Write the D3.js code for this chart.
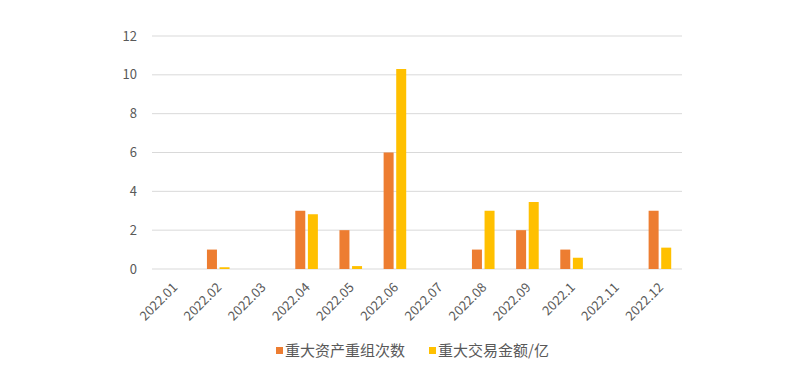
<!DOCTYPE html>
<html>
<head>
<meta charset="utf-8">
<script src="https://cdn.jsdelivr.net/npm/d3@7"></script>
<style>
  body { margin: 0; background: #fff; }
  svg text { font-family: "Noto Sans CJK SC", "Noto Sans", sans-serif; fill: #595959; }
</style>
</head>
<body>
<svg id="chart" width="800" height="375"></svg>
<script>
// chart data
const months = ["2022.01","2022.02","2022.03","2022.04","2022.05","2022.06",
                "2022.07","2022.08","2022.09","2022.1","2022.11","2022.12"];
const countVals  = [0, 1, 0, 3, 2, 6, 0, 1, 2, 1, 0, 3];
const amountVals = [0, 0.09, 0, 2.82, 0.15, 10.3, 0, 3.0, 3.45, 0.58, 0, 1.1];
const yTicks = [0, 2, 4, 6, 8, 10, 12];
const seriesNames = ["重大资产重组次数", "重大交易金额/亿"];
const COLORS = ["#ED7D31", "#FFC000"];

(function(){
  const svg = d3.select('#chart');
  const plotL = 152, plotR = 682, plotT = 36, plotB = 269;

  const x = d3.scaleBand().domain(months).range([plotL, plotR]);
  const y = d3.scaleLinear().domain([0, 12]).range([plotB, plotT]);

  // gridlines
  svg.append('g').selectAll('line')
    .data(yTicks)
    .join('line')
    .attr('x1', plotL).attr('x2', plotR)
    .attr('y1', d => y(d)).attr('y2', d => y(d))
    .attr('stroke', '#d9d9d9').attr('stroke-width', 1);

  // y labels
  svg.append('g').selectAll('text')
    .data(yTicks)
    .join('text')
    .attr('x', 137).attr('y', d => y(d))
    .attr('dy', '0.35em')
    .attr('text-anchor', 'end')
    .style('font-size', '13px')
    .text(d => d);

  // bars
  const barW = 10, gap = 2.6;
  [countVals, amountVals].forEach((vals, si) => {
    svg.append('g').selectAll('rect')
      .data(vals.map((v, i) => ({ m: months[i], v })))
      .join('rect')
      .attr('x', d => x(d.m) + x.bandwidth() / 2 + (si === 0 ? -(barW + gap / 2) : gap / 2))
      .attr('y', d => y(d.v))
      .attr('width', barW)
      .attr('height', d => plotB - y(d.v))
      .attr('fill', COLORS[si]);
  });

  // x labels, rotated
  svg.append('g').selectAll('text')
    .data(months)
    .join('text')
    .attr('transform', d => `translate(${x(d) + x.bandwidth() / 2 + 1},${plotB + 16}) rotate(-45)`)
    .attr('text-anchor', 'end')
    .attr('dy', '0.35em')
    .style('font-size', '13px')
    .text(d => d);

  // legend
  const legend = svg.append('g');
  const legX = [276, 429];
  seriesNames.forEach((name, i) => {
    legend.append('rect')
      .attr('x', legX[i]).attr('y', 347)
      .attr('width', 7).attr('height', 7)
      .attr('fill', COLORS[i]);
    legend.append('text')
      .attr('x', legX[i] + 9).attr('y', 350.5)
      .attr('dy', '0.35em')
      .style('font-size', '15px')
      .text(name);
  });
})();
</script>
</body>
</html>
